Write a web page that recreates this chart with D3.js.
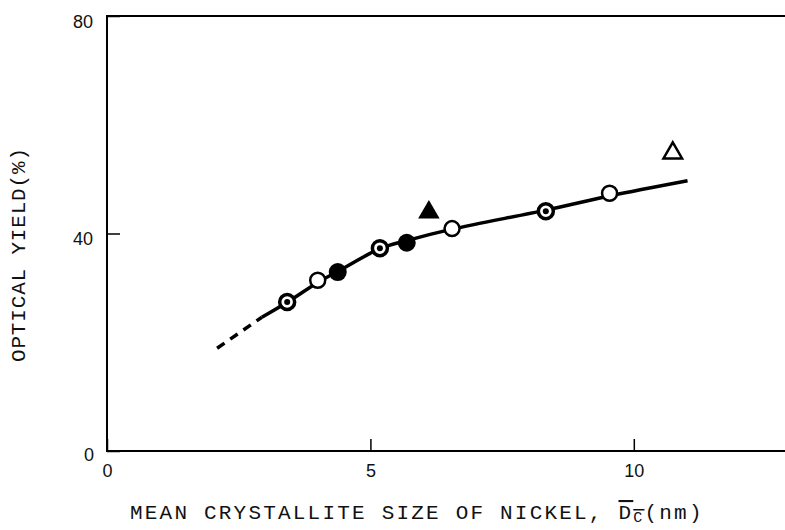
<!DOCTYPE html>
<html lang="en">
<head>
<meta charset="utf-8">
<title>Optical yield vs crystallite size</title>
<script src="https://cdn.jsdelivr.net/npm/d3@7"></script>
<style>
  body { margin: 0; background: #fff; }
  .tick text { font-family: "Liberation Sans", sans-serif; font-size: 18px; fill: #111; }
  .lbl { font-family: "Liberation Mono", monospace; fill: #111; }
</style>
</head>
<body>
<svg id="chart" width="785" height="530"></svg>
<script>
// fitted curve (solid part) and extrapolated (dashed) part
var curveX  = [2.94, 3.43, 4.0, 4.36, 5.18, 5.69, 6.55, 8.33, 9.54, 11.02];
var curveY  = [24.6, 27.4, 31.0, 32.9, 37.2, 38.7, 40.8, 44.3, 46.9, 49.7];
var dashX   = [2.09, 2.94];
var dashY   = [18.9, 24.6];

// measured points, by marker type
var openX   = [4.0, 6.55, 9.54];
var openY   = [31.4, 40.9, 47.4];
var filledX = [4.38, 5.69];
var filledY = [32.9, 38.3];
var dotX    = [3.42, 5.18, 8.33];
var dotY    = [27.4, 37.3, 44.1];
var triFilledX = [6.11];
var triFilledY = [43.9];
var triOpenX   = [10.74];
var triOpenY   = [54.8];

var xTicks = [0, 5, 10];
var yTicks = [0, 40, 80];

var svg = d3.select("#chart");
var x = d3.scaleLinear().domain([0, 12.87]).range([107, 785]);
var y = d3.scaleLinear().domain([0, 80]).range([451, 16]);

// frame: left, top, bottom
svg.append("path")
    .attr("d", "M785," + y(80) + "H" + x(0) + "V" + y(0) + "H785")
    .attr("fill", "none")
    .attr("stroke", "#000")
    .attr("stroke-width", 2);

var xAxis = svg.append("g")
    .attr("transform", "translate(0," + y(0) + ")")
    .call(d3.axisBottom(x).tickValues(xTicks).tickSizeInner(-12).tickSizeOuter(0).tickFormat(d3.format("d")));
xAxis.select(".domain").remove();
xAxis.selectAll(".tick line").attr("stroke", "#000").attr("stroke-width", 1.5);
xAxis.selectAll(".tick text").attr("y", 13).attr("dy", "0.71em");

var yAxis = svg.append("g")
    .attr("transform", "translate(" + x(0) + ",0)")
    .call(d3.axisLeft(y).tickValues(yTicks).tickSizeInner(-13).tickSizeOuter(0).tickFormat(d3.format("d")));
yAxis.select(".domain").remove();
yAxis.selectAll(".tick line").attr("stroke", "#000").attr("stroke-width", 1.5);
yAxis.selectAll(".tick text")
    .attr("x", function (d) { return d === 0 ? -13 : -14; })
    .attr("dy", function (d) { return d === 80 ? "0.65em" : d === 40 ? "0.6em" : "0.5em"; });

// curve
var line = d3.line()
    .x(function (d) { return x(d[0]); })
    .y(function (d) { return y(d[1]); })
    .curve(d3.curveCatmullRom.alpha(0.5));

svg.append("path")
    .datum(d3.zip(curveX, curveY))
    .attr("d", line)
    .attr("fill", "none")
    .attr("stroke", "#000")
    .attr("stroke-width", 3.5);

svg.append("path")
    .datum(d3.zip(dashX, dashY))
    .attr("d", line)
    .attr("fill", "none")
    .attr("stroke", "#000")
    .attr("stroke-width", 3.5)
    .attr("stroke-dasharray", "9,7");

// open circles
svg.selectAll(".open").data(d3.zip(openX, openY)).enter()
    .append("circle")
    .attr("cx", function (d) { return x(d[0]); })
    .attr("cy", function (d) { return y(d[1]); })
    .attr("r", 7.5)
    .attr("fill", "#fff")
    .attr("stroke", "#000")
    .attr("stroke-width", 2.5);

// filled circles
svg.selectAll(".filled").data(d3.zip(filledX, filledY)).enter()
    .append("circle")
    .attr("cx", function (d) { return x(d[0]); })
    .attr("cy", function (d) { return y(d[1]); })
    .attr("r", 9)
    .attr("fill", "#000");

// dotted circles
var dots = svg.selectAll(".dot").data(d3.zip(dotX, dotY)).enter().append("g")
    .attr("transform", function (d) { return "translate(" + x(d[0]) + "," + y(d[1]) + ")"; });
dots.append("circle").attr("r", 7.5).attr("fill", "#fff").attr("stroke", "#000").attr("stroke-width", 3.5);
dots.append("circle").attr("r", 3).attr("fill", "#000");

// triangles
var tri = d3.symbol().type(d3.symbolTriangle);
svg.selectAll(".trif").data(d3.zip(triFilledX, triFilledY)).enter()
    .append("path")
    .attr("transform", function (d) { return "translate(" + x(d[0]) + "," + y(d[1]) + ")"; })
    .attr("d", tri.size(200)())
    .attr("fill", "#000");
svg.selectAll(".trio").data(d3.zip(triOpenX, triOpenY)).enter()
    .append("path")
    .attr("transform", function (d) { return "translate(" + x(d[0]) + "," + y(d[1]) + ")"; })
    .attr("d", tri.size(150)())
    .attr("fill", "#fff")
    .attr("stroke", "#000")
    .attr("stroke-width", 2.5);

// axis titles
svg.append("text")
    .attr("class", "lbl")
    .attr("transform", "translate(25,255) rotate(-90)")
    .attr("text-anchor", "middle")
    .attr("font-size", 21)
    .attr("textLength", 214)
    .text("OPTICAL YIELD(%)");

var xt = svg.append("text")
    .attr("class", "lbl")
    .attr("x", 130)
    .attr("y", 519)
    .attr("font-size", 21)
    .attr("letter-spacing", 2.2);
xt.append("tspan").text("MEAN CRYSTALLITE SIZE OF NICKEL, ");
var dc = xt.append("tspan").style("text-decoration", "overline");
dc.append("tspan").text("D");
dc.append("tspan").attr("font-size", 15).attr("dy", 3).text("C");
xt.append("tspan").attr("dy", -3).text("(nm)");
</script>
</body>
</html>
